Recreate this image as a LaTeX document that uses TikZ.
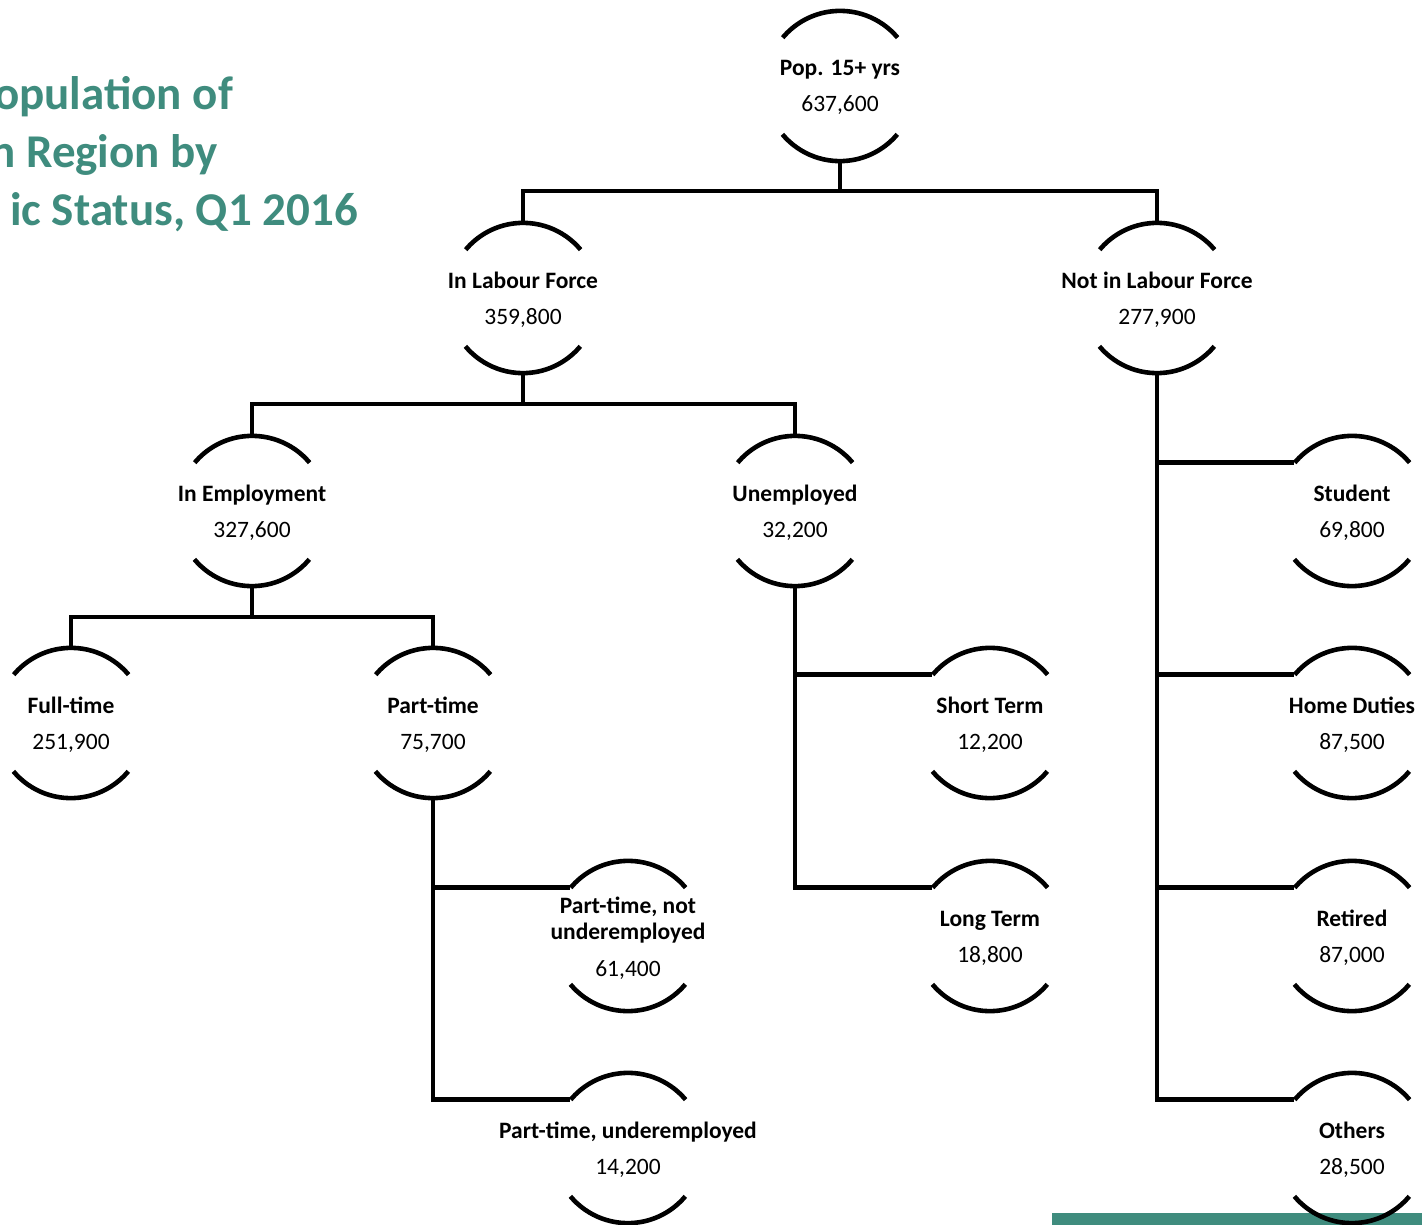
\documentclass[tikz,border=0pt]{standalone}
\usepackage{fontspec}
\setmainfont{Carlito}
\usetikzlibrary{calc}
\definecolor{teal1}{HTML}{3F8C7E}
\tikzset{
 kcirc/.style={circle, minimum size=150pt, inner sep=0pt, draw=none},
 karc/.style={line width=4.6pt},
 conn/.style={line width=4.6pt},
 lab/.style={inner sep=0pt, anchor=base, font=\fontsize{23.5}{28}\selectfont\bfseries},
 num/.style={inner sep=0pt, anchor=base, font=\fontsize{23.5}{28}\selectfont},
 ttl/.style={inner sep=0pt, anchor=base east, text=teal1, font=\fontsize{47}{56}\selectfont\bfseries},
}
\newcommand\kcircarcs[1]{%
 \draw[karc] (#1.40) arc[start angle=40,end angle=140,radius=75pt];
 \draw[karc] (#1.220) arc[start angle=220,end angle=320,radius=75pt];
}
\newcommand\kn[5]{% name, x, y, label, number
 \node[kcirc] (#1) at (#2,-#3) {};
 \kcircarcs{#1}
 \node[lab] (#1-l) at ($(#1.center)+(0,10)$) {#4};
 \node[num] (#1-n) at ($(#1.center)+(0,-26)$) {#5};
}
\begin{document}
\begin{tikzpicture}[x=1pt,y=1pt]
\useasboundingbox (0,0) rectangle (1422,-1225);
\clip (0,0) rectangle (1422,-1225);
% title
\node[ttl] (t1) at (233,-110) {opulation of};
\node[ttl] (t2) at (218,-168) {n Region by};
\node[ttl] (t3) at (358,-226) {ic Status, Q1 2016};
% bar
\fill[teal1] (1052,-1213) rectangle (1422,-1226);
% nodes
\kn{pop}{840}{86}{Pop. 15+ yrs}{637,600}
\kn{ilf}{523}{298}{In Labour Force}{359,800}
\kn{nilf}{1157}{298}{Not in Labour Force}{277,900}
\kn{iemp}{252}{511}{In Employment}{327,600}
\kn{unemp}{795}{511}{Unemployed}{32,200}
\kn{stu}{1352}{511}{Student}{69,800}
\kn{ft}{71}{723}{Full-time}{251,900}
\kn{pt}{433}{723}{Part-time}{75,700}
\kn{st}{990}{723}{Short Term}{12,200}
\kn{hd}{1352}{723}{Home Duties}{87,500}
\kn{lt}{990}{936}{Long Term}{18,800}
\kn{ret}{1352}{936}{Retired}{87,000}
\kn{ptu}{628}{1148}{Part-time, underemployed}{14,200}
\kn{oth}{1352}{1148}{Others}{28,500}
% two-line node
\node[kcirc] (ptn) at (628,-936) {};
\kcircarcs{ptn}
\node[lab] (ptn-l1) at ($(ptn.center)+(0,23)$) {Part-time, not};
\node[lab] (ptn-l2) at ($(ptn.center)+(0,-3)$) {underemployed};
\node[num] (ptn-n) at ($(ptn.center)+(0,-40)$) {61,400};
% connectors
\coordinate (b1) at (840,-191);
\draw[conn] (pop.south) -- (b1);
\draw[conn] (ilf.north) |- (b1) -| (nilf.north);
\coordinate (b2) at (523,-404);
\draw[conn] (ilf.south) -- (b2);
\draw[conn] (iemp.north) |- (b2) -| (unemp.north);
\coordinate (b3) at (252,-617);
\draw[conn] (iemp.south) -- (b3);
\draw[conn] (ft.north) |- (b3) -| (pt.north);
\draw[conn] (unemp.south) |- (lt.140);
\draw[conn] (unemp.south |- st.140) -- (st.140);
\draw[conn] (pt.south) |- (ptu.140);
\draw[conn] (pt.south |- ptn.140) -- (ptn.140);
\draw[conn] (nilf.south) |- (oth.140);
\draw[conn] (nilf.south |- stu.140) -- (stu.140);
\draw[conn] (nilf.south |- hd.140) -- (hd.140);
\draw[conn] (nilf.south |- ret.140) -- (ret.140);
\end{tikzpicture}
\end{document}
